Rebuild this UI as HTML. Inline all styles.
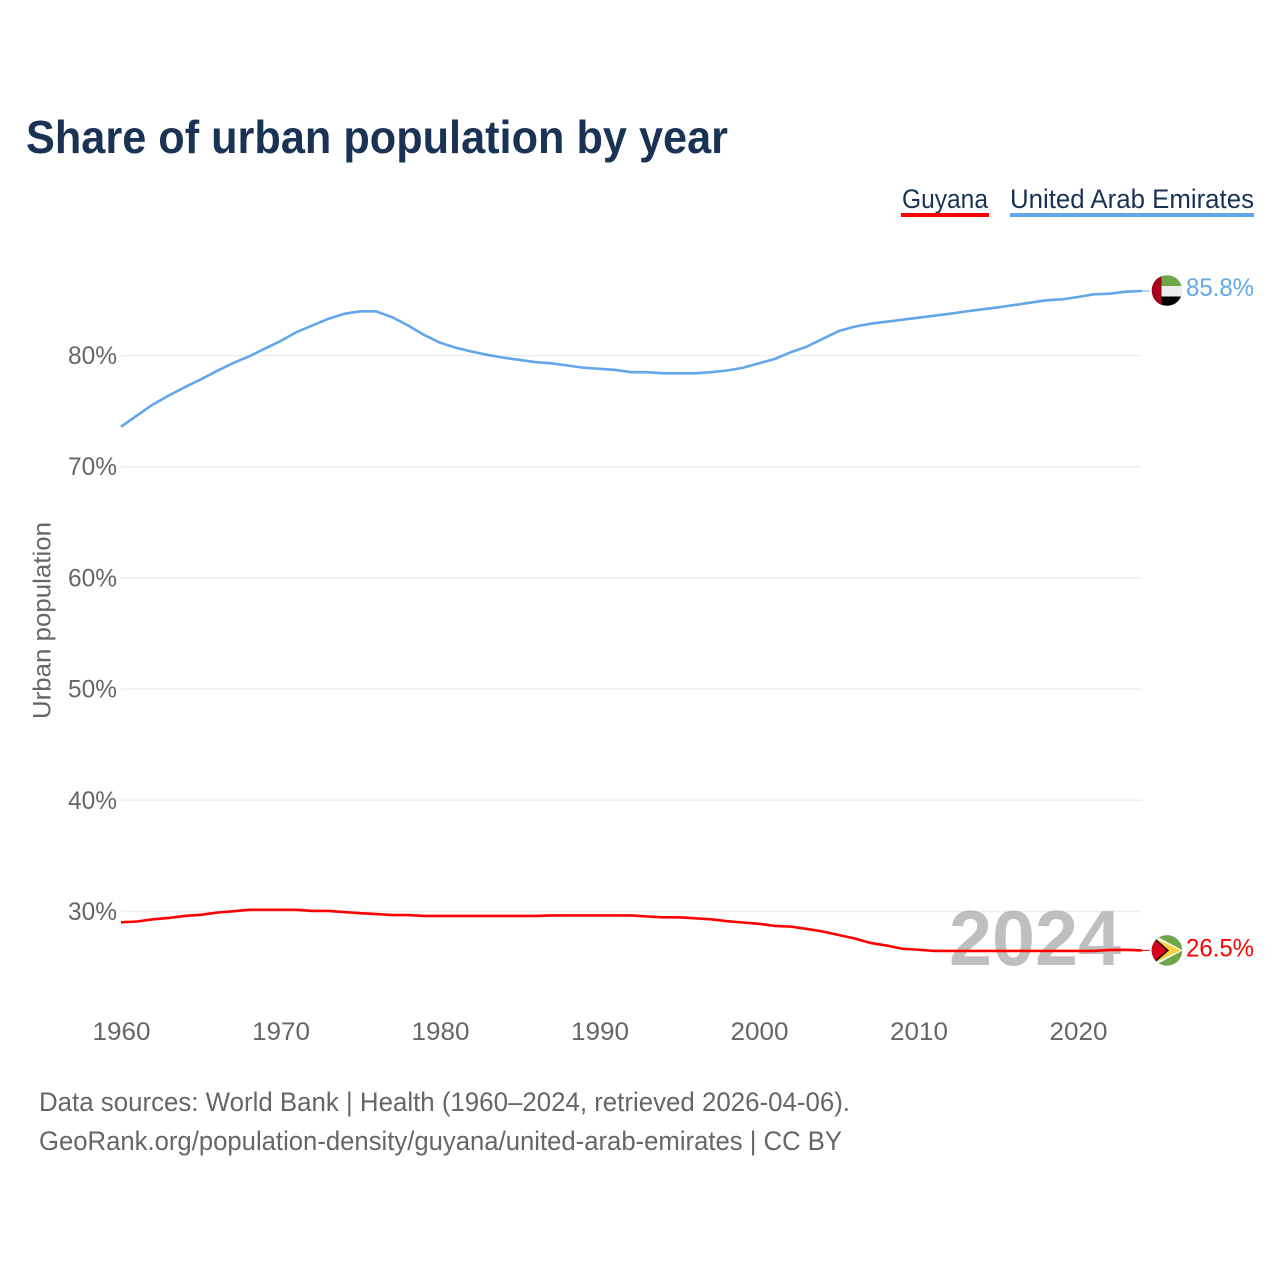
<!DOCTYPE html>
<html lang="en">
<head>
<meta charset="utf-8">
<title>Share of urban population by year</title>
<style>
html,body{margin:0;padding:0;background:#fff;width:1280px;height:1280px;overflow:hidden}
svg{display:block}
text{font-family:"Liberation Sans",sans-serif}
</style>
</head>
<body>
<svg id="chart" xmlns="http://www.w3.org/2000/svg" width="1280" height="1280" viewBox="0 0 1280 1280">
  <rect x="0" y="0" width="1280" height="1280" fill="#fff"/>
  <text x="26" y="153" font-size="46" font-weight="700" fill="#1a3354" textLength="702" lengthAdjust="spacingAndGlyphs">Share of urban population by year</text>

  <g>
    <g>
      <text x="902" y="208" font-size="27" fill="#1a3354" textLength="86" lengthAdjust="spacingAndGlyphs">Guyana</text>
      <rect x="901" y="213" width="88" height="4" fill="#ff0000"/>
    </g>
    <g>
      <text x="1010" y="208" font-size="27" fill="#1a3354" textLength="244" lengthAdjust="spacingAndGlyphs">United Arab Emirates</text>
      <rect x="1010" y="213" width="244" height="4" fill="#62a7ea"/>
    </g>
  </g>

  <text transform="translate(50.5,620.5) rotate(-90)" text-anchor="middle" font-size="25" fill="#666" textLength="197" lengthAdjust="spacingAndGlyphs">Urban population</text>

  <g id="grid"></g>
  <g id="yticks"></g>
  <g id="xticks"></g>

  <text id="year-watermark" x="949" y="965" font-size="78" font-weight="700" fill="#808080" fill-opacity="0.5" textLength="172" lengthAdjust="spacingAndGlyphs">2024</text>

  <g id="series"></g>

  <defs>
    <clipPath id="clip-uae"><circle cx="0" cy="0" r="15.3"/></clipPath>
    <clipPath id="clip-guy"><circle cx="0" cy="0" r="15.3"/></clipPath>
  </defs>

  <g id="flag-uae">
    <g clip-path="url(#clip-uae)">
      <rect x="-16" y="-16" width="32" height="11.5" fill="#6ea648"/>
      <rect x="-16" y="-4.5" width="32" height="10.5" fill="#eeeeee"/>
      <rect x="-16" y="6" width="32" height="10" fill="#000"/>
      <rect x="-16" y="-16" width="10.5" height="32" fill="#a50019"/>
    </g>
  </g>
  <g id="flag-guy">
    <g clip-path="url(#clip-guy)">
      <rect x="-16" y="-16" width="32" height="32" fill="#6ea648"/>
      <polygon points="-16,-16 -14,-16 16,0 -14,16 -16,16" fill="#f6f6f6"/>
      <polygon points="-16,-14 14,0 -16,14" fill="#f7d23e"/>
      <polygon points="-16,-13 -13,-13 2,0 -13,13 -16,13" fill="#000"/>
      <polygon points="-16,-11 -13,-11 0,0 -13,11 -16,11" fill="#d9001f"/>
    </g>
  </g>

  <text id="end-label-uae" x="1186" y="296" font-size="25" fill="#62a7ea" textLength="68" lengthAdjust="spacingAndGlyphs"></text>
  <text id="end-label-guy" x="1186" y="956" font-size="25" fill="#ff0000" textLength="68" lengthAdjust="spacingAndGlyphs"></text>

  <g>
    <text x="39" y="1111" font-size="27" fill="#666" textLength="811" lengthAdjust="spacingAndGlyphs">Data sources: World Bank | Health (1960–2024, retrieved 2026-04-06).</text>
    <text x="39" y="1150" font-size="27" fill="#666" textLength="803" lengthAdjust="spacingAndGlyphs">GeoRank.org/population-density/guyana/united-arab-emirates | CC BY</text>
  </g>
</svg>
<script>
const years = [1960,1961,1962,1963,1964,1965,1966,1967,1968,1969,
  1970,1971,1972,1973,1974,1975,1976,1977,1978,1979,
  1980,1981,1982,1983,1984,1985,1986,1987,1988,1989,
  1990,1991,1992,1993,1994,1995,1996,1997,1998,1999,
  2000,2001,2002,2003,2004,2005,2006,2007,2008,2009,
  2010,2011,2012,2013,2014,2015,2016,2017,2018,2019,
  2020,2021,2022,2023,2024];
const uaeValues = [73.6,74.6,75.6,76.4,77.15,77.85,78.6,79.3,79.9,80.6,
  81.3,82.1,82.7,83.3,83.75,83.97,83.97,83.45,82.7,81.85,
  81.15,80.7,80.35,80.05,79.8,79.6,79.4,79.3,79.1,78.9,
  78.8,78.7,78.5,78.5,78.4,78.4,78.4,78.5,78.65,78.9,
  79.3,79.7,80.3,80.8,81.5,82.2,82.6,82.86,83.04,83.22,
  83.4,83.58,83.76,83.97,84.15,84.33,84.54,84.75,84.96,85.05,
  85.26,85.5,85.56,85.74,85.8];
const guyanaValues = [29.03,29.1,29.3,29.42,29.6,29.7,29.9,30.02,30.15,30.15,
  30.15,30.15,30.05,30.05,29.95,29.85,29.77,29.68,29.68,29.6,
  29.6,29.6,29.6,29.6,29.6,29.6,29.6,29.65,29.65,29.65,
  29.65,29.65,29.65,29.55,29.48,29.48,29.39,29.3,29.13,29.01,
  28.89,28.7,28.64,28.43,28.2,27.89,27.57,27.17,26.94,26.65,
  26.56,26.45,26.45,26.45,26.45,26.45,26.45,26.45,26.45,26.45,
  26.45,26.45,26.54,26.55,26.5];
const yTickValues = [30,40,50,60,70,80];
const xTickValues = [1960,1970,1980,1990,2000,2010,2020];

const SVG_NS = 'http://www.w3.org/2000/svg';
function xScale(year){ return 121 + (year - 1960) * 15.95; }
function yScale(value){ return 355.5 + (80 - value) * 11.12; }

const gridGroup = document.getElementById('grid');
const yTickGroup = document.getElementById('yticks');
const xTickGroup = document.getElementById('xticks');
const seriesGroup = document.getElementById('series');

yTickValues.forEach(function(v){
  const line = document.createElementNS(SVG_NS, 'line');
  
  
  line.setAttribute('x1', 121);
  line.setAttribute('x2', xScale(2024));
  line.setAttribute('y1', yScale(v));
  line.setAttribute('y2', yScale(v));
  line.setAttribute('stroke', '#eeeeee');
  line.setAttribute('stroke-width', '1.5');
  gridGroup.appendChild(line);

  const label = document.createElementNS(SVG_NS, 'text');
  
  
  label.setAttribute('x', 68);
  label.setAttribute('y', yScale(v) + 8.5);
  label.setAttribute('font-size', '25');
  label.setAttribute('fill', '#666');
  label.setAttribute('textLength', '49');
  label.setAttribute('lengthAdjust', 'spacingAndGlyphs');
  label.textContent = v + '%';
  yTickGroup.appendChild(label);
});

xTickValues.forEach(function(y){
  const label = document.createElementNS(SVG_NS, 'text');
  
  
  label.setAttribute('x', xScale(y) - 28.5);
  label.setAttribute('y', 1040);
  label.setAttribute('font-size', '25');
  label.setAttribute('fill', '#666');
  label.setAttribute('textLength', '58');
  label.setAttribute('lengthAdjust', 'spacingAndGlyphs');
  label.textContent = y;
  xTickGroup.appendChild(label);
});

function pathFor(values){
  return values.map(function(v, i){
    return (i ? 'L' : 'M') + xScale(years[i]).toFixed(2) + ' ' + yScale(v).toFixed(2);
  }).join(' ');
}

const guyanaLine = document.createElementNS(SVG_NS, 'path');


guyanaLine.setAttribute('d', pathFor(guyanaValues));
guyanaLine.setAttribute('fill', 'none');
guyanaLine.setAttribute('stroke', '#ff0000');
guyanaLine.setAttribute('stroke-width', '2.6');
seriesGroup.appendChild(guyanaLine);

const uaeLine = document.createElementNS(SVG_NS, 'path');


uaeLine.setAttribute('d', pathFor(uaeValues));
uaeLine.setAttribute('fill', 'none');
uaeLine.setAttribute('stroke', '#62a7ea');
uaeLine.setAttribute('stroke-width', '2.6');
seriesGroup.appendChild(uaeLine);

const lastUae = uaeValues[uaeValues.length - 1];
const lastGuyana = guyanaValues[guyanaValues.length - 1];
const lastX = xScale(years[years.length - 1]);

const uaeLeader = document.createElementNS(SVG_NS, 'line');


uaeLeader.setAttribute('x1', lastX);
uaeLeader.setAttribute('x2', lastX + 8);
uaeLeader.setAttribute('y1', yScale(lastUae));
uaeLeader.setAttribute('y2', yScale(lastUae));
uaeLeader.setAttribute('stroke', '#62a7ea');
uaeLeader.setAttribute('stroke-width', '1');
seriesGroup.appendChild(uaeLeader);

const guyanaLeader = document.createElementNS(SVG_NS, 'line');


guyanaLeader.setAttribute('x1', lastX);
guyanaLeader.setAttribute('x2', lastX + 8);
guyanaLeader.setAttribute('y1', yScale(lastGuyana));
guyanaLeader.setAttribute('y2', yScale(lastGuyana));
guyanaLeader.setAttribute('stroke', '#ff0000');
guyanaLeader.setAttribute('stroke-width', '1');
seriesGroup.appendChild(guyanaLeader);

document.getElementById('flag-uae').setAttribute('transform', 'translate(1167,' + (yScale(lastUae) - 0.5) + ')');
document.getElementById('flag-guy').setAttribute('transform', 'translate(1167,' + yScale(lastGuyana) + ')');

const uaeLabel = document.getElementById('end-label-uae');
uaeLabel.setAttribute('y', yScale(lastUae) + 5);
uaeLabel.textContent = lastUae.toFixed(1) + '%';
const guyanaLabel = document.getElementById('end-label-guy');
guyanaLabel.setAttribute('y', yScale(lastGuyana) + 6);
guyanaLabel.textContent = lastGuyana.toFixed(1) + '%';
document.getElementById('year-watermark').textContent = years[years.length - 1];
</script>
</body>
</html>
